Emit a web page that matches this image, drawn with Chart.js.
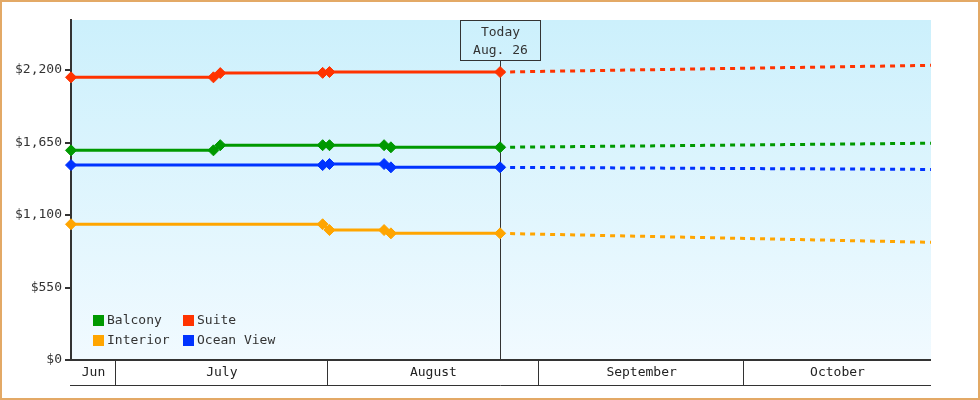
<!DOCTYPE html>
<html>
<head>
<meta charset="utf-8">
<script src="https://cdn.jsdelivr.net/npm/chart.js@4.4.1/dist/chart.umd.min.js"></script>
<style>
  html, body { margin: 0; padding: 0; background: #fff; }
  #wrap { width: 980px; height: 400px; position: relative; }
</style>
</head>
<body>
<div id="wrap"><canvas id="fareChart"></canvas></div>
<script>
// x values are days counted from July 1
const axisStart = -6.6;
const axisEnd = 119.4;
const todayDay = 56.27;
const todayLabel = ['Today', 'Aug. 26'];

const balconyDays = [-6.6, 14.27, 15.27, 30.27, 31.27, 39.27, 40.27, 56.27, 119.4];
const balconyPrices = [1591, 1591, 1630, 1630, 1630, 1630, 1614, 1614, 1645];

const suiteDays = [-6.6, 14.27, 15.27, 30.27, 31.27, 56.27, 119.4];
const suitePrices = [2145, 2145, 2177, 2179, 2185, 2185, 2236];

const interiorDays = [-6.6, 30.27, 31.27, 39.27, 40.27, 56.27, 119.4];
const interiorPrices = [1030, 1030, 986, 986, 961, 961, 893];

const oceanDays = [-6.6, 30.27, 31.27, 39.27, 40.27, 56.27, 119.4];
const oceanPrices = [1479, 1479, 1487, 1487, 1462, 1462, 1446];

const yTicks = [0, 550, 1100, 1650, 2200];
const yMax = 2580;

const monthNames = ['Jun', 'July', 'August', 'September', 'October'];
const monthStarts = [-30, 0, 31, 62, 92];
const monthEnds = [0, 31, 62, 92, 123];

const FONT = '13px "DejaVu Sans Mono", "Liberation Mono", monospace';
const INK = '#333';

function series(label, color, days, prices) {
  return {
    label,
    borderColor: color,
    backgroundColor: color,
    data: days.map((d, i) => ({ x: d, y: prices[i] })),
    borderWidth: 3,
    tension: 0,
    pointStyle: 'rectRot',
    pointRadius: c => (c.raw && c.raw.x > todayDay ? 0 : 5.5),
    pointBorderWidth: 1,
    pointHoverRadius: 0,
    clip: false,
    segment: {
      borderDash: c => (c.p0.parsed.x >= todayDay - 0.01 ? [5, 5] : undefined)
    }
  };
}

const backdrop = {
  id: 'backdrop',
  beforeDraw(chart) {
    const { ctx, chartArea: a } = chart;
    const g = ctx.createLinearGradient(0, a.top, 0, a.bottom);
    g.addColorStop(0, '#ccf0fc');
    g.addColorStop(1, '#f1faff');
    ctx.save();
    ctx.fillStyle = g;
    ctx.fillRect(a.left, a.top, a.right - a.left, a.bottom - a.top);
    ctx.restore();
  }
};

const todayMarker = {
  id: 'todayMarker',
  beforeDatasetsDraw(chart) {
    const { ctx, chartArea: a, scales } = chart;
    const x = Math.round(scales.x.getPixelForValue(todayDay)) + 0.5;
    ctx.save();
    ctx.strokeStyle = INK;
    ctx.lineWidth = 1;
    ctx.beginPath();
    ctx.moveTo(x, a.top + 41);
    ctx.lineTo(x, a.bottom);
    ctx.stroke();
    ctx.restore();
  },
  afterDraw(chart) {
    const { ctx, chartArea: a, scales } = chart;
    const x = Math.round(scales.x.getPixelForValue(todayDay)) + 0.5;
    ctx.save();
    ctx.strokeStyle = INK;
    ctx.lineWidth = 1;
    ctx.strokeRect(x - 40, a.top + 0.5, 80, 40);
    ctx.fillStyle = INK;
    ctx.font = FONT;
    ctx.textAlign = 'center';
    ctx.textBaseline = 'middle';
    ctx.fillText(todayLabel[0], x, a.top + 13);
    ctx.fillText(todayLabel[1], x, a.top + 31);
    ctx.restore();
  }
};

const monthBand = {
  id: 'monthBand',
  afterDraw(chart) {
    const { ctx, chartArea: a, scales } = chart;
    const xs = scales.x;
    const top = a.bottom;
    const bottom = a.bottom + 25;
    ctx.save();
    ctx.strokeStyle = INK;
    ctx.lineWidth = 1;
    ctx.beginPath();
    ctx.moveTo(a.left - 1, bottom + 0.5);
    ctx.lineTo(a.right, bottom + 0.5);
    ctx.stroke();
    ctx.font = FONT;
    ctx.fillStyle = '#222';
    ctx.textAlign = 'center';
    ctx.textBaseline = 'middle';
    monthNames.forEach((name, i) => {
      const s = Math.max(monthStarts[i], xs.min);
      const e = Math.min(monthEnds[i], xs.max);
      const x0 = xs.getPixelForValue(s);
      const x1 = xs.getPixelForValue(e);
      if (monthStarts[i] > xs.min) {
        const px = Math.round(x0) - 0.5;
        ctx.beginPath();
        ctx.moveTo(px, top);
        ctx.lineTo(px, bottom);
        ctx.stroke();
      }
      ctx.fillText(name, (x0 + x1) / 2, top + 13);
    });
    // x axis line
    ctx.lineWidth = 2;
    ctx.beginPath();
    ctx.moveTo(a.left - 1, top);
    ctx.lineTo(a.right, top);
    ctx.stroke();
    ctx.restore();
  }
};

const boxLegend = {
  id: 'boxLegend',
  afterDraw(chart) {
    const { ctx, chartArea: a } = chart;
    const sets = chart.data.datasets;
    ctx.save();
    ctx.font = FONT;
    ctx.textBaseline = 'middle';
    ctx.textAlign = 'left';
    sets.forEach((ds, i) => {
      const col = i % 2;
      const row = Math.floor(i / 2);
      const x = a.left + 22 + col * 90;
      const y = a.bottom - 40 + row * 20;
      ctx.fillStyle = ds.borderColor;
      ctx.fillRect(x, y - 5, 11, 11);
      ctx.fillStyle = INK;
      ctx.fillText(ds.label, x + 14, y + 1);
    });
    ctx.restore();
  }
};

const frame = {
  id: 'frame',
  afterDraw(chart) {
    const { ctx, width, height } = chart;
    ctx.save();
    ctx.strokeStyle = '#e3a966';
    ctx.lineWidth = 2;
    ctx.strokeRect(1, 1, width - 2, height - 2);
    ctx.restore();
  }
};

new Chart(document.getElementById('fareChart'), {
  type: 'line',
  data: {
    datasets: [
      series('Balcony', '#009900', balconyDays, balconyPrices),
      series('Suite', '#ff3300', suiteDays, suitePrices),
      series('Interior', '#ffa500', interiorDays, interiorPrices),
      series('Ocean View', '#0033ff', oceanDays, oceanPrices)
    ]
  },
  options: {
    responsive: true,
    maintainAspectRatio: false,
    animation: false,
    events: [],
    layout: { padding: { left: 0, right: 49, top: 20, bottom: 40 } },
    plugins: {
      legend: { display: false },
      tooltip: { enabled: false }
    },
    scales: {
      x: {
        type: 'linear',
        min: axisStart,
        max: axisEnd,
        display: false
      },
      y: {
        min: 0,
        max: yMax,
        afterBuildTicks: axis => {
          axis.ticks = yTicks.map(v => ({ value: v }));
        },
        afterFit: axis => {
          axis.width = 71;
        },
        border: { display: true, color: INK, width: 2 },
        grid: {
          drawOnChartArea: false,
          drawTicks: true,
          tickLength: 6,
          color: INK,
          lineWidth: 2
        },
        ticks: {
          color: INK,
          padding: 3,
          font: { family: '"DejaVu Sans Mono", "Liberation Mono", monospace', size: 13 },
          callback: v => '$' + v.toLocaleString('en-US')
        }
      }
    }
  },
  plugins: [backdrop, todayMarker, monthBand, boxLegend, frame]
});
</script>
</body>
</html>
